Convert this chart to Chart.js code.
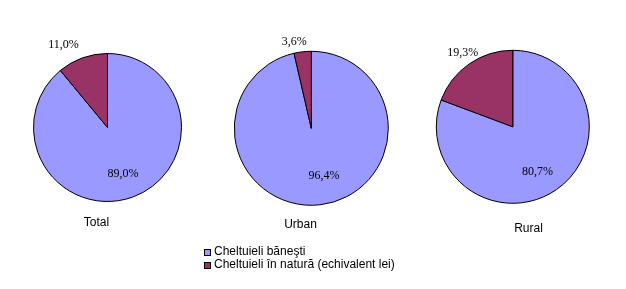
<!DOCTYPE html>
<html>
<head>
<meta charset="utf-8">
<script src="https://cdn.jsdelivr.net/npm/chart.js@4.4.1/dist/chart.umd.min.js"></script>
<style>
  html, body { margin: 0; padding: 0; background: #ffffff; }
  #wrap { position: relative; width: 626px; height: 289px; overflow: hidden; background: #fff; }
  .layer { position: absolute; left: 0; top: 0; width: 626px; height: 289px; }
  .cat { position: absolute; font-family: "Liberation Sans", Arial, sans-serif; font-size: 12px; line-height: 14px; color: #000; transform: translateX(-50%); white-space: nowrap; }
  #legend { position: absolute; left: 204px; top: 245px; font-family: "Liberation Sans", Arial, sans-serif; font-size: 12px; line-height: 13px; color: #000; }
  #legend .row { display: flex; align-items: center; white-space: nowrap; }
  #legend .sw { width: 5px; height: 5px; border: 1px solid #000; margin-right: 3px; margin-top: 1px; }
</style>
</head>
<body>
<div id="wrap"></div>
<script>
// ---- data ----
const categories = ['Total', 'Urban', 'Rural'];
const seriesNames = ['Cheltuieli băneşti', 'Cheltuieli în natură (echivalent lei)'];
const banesti = [89.0, 96.4, 80.7];
const natura = [11.0, 3.6, 19.3];

// ---- styling / layout ----
const colors = ['#9999FF', '#993366'];
const W = 626, H = 289;
const pieGeom = [
  { cx: 107.5, cy: 127.5, r: 74 },
  { cx: 311.3, cy: 128.3, r: 77 },
  { cx: 512.8, cy: 126.8, r: 76.5 }
];
// label placement: radial factor and angle shift (degrees) relative to slice middle
const labelPlace = [
  [{ rf: 0.66, da: 1.4 }, { rf: 1.26, da: -8.3 }],
  [{ rf: 0.64, da: -8.5 }, { rf: 1.15, da: -4.6 }],
  [{ rf: 0.675, da: 6.1 }, { rf: 1.17, da: 0.7 }]
];
const catPos = [
  { x: 96.5, y: 215 },
  { x: 300.5, y: 217 },
  { x: 528.5, y: 221 }
];

const fmt = v => v.toFixed(1).replace('.', ',') + '%';

const labelPlugin = {
  id: 'sliceLabels',
  afterDatasetsDraw(chart, args, opts) {
    const ctx = chart.ctx;
    const meta = chart.getDatasetMeta(0);
    const data = chart.data.datasets[0].data;
    ctx.save();
    ctx.font = '12px "Liberation Serif", "Times New Roman", serif';
    ctx.fillStyle = '#000';
    ctx.textAlign = 'center';
    ctx.textBaseline = 'middle';
    meta.data.forEach((arc, i) => {
      const p = arc.getProps(['x', 'y', 'startAngle', 'endAngle', 'outerRadius'], true);
      const place = opts.place[i];
      const mid = (p.startAngle + p.endAngle) / 2 + place.da * Math.PI / 180;
      const rr = p.outerRadius * place.rf;
      const x = p.x + Math.cos(mid) * rr;
      const y = p.y + Math.sin(mid) * rr;
      ctx.fillText(fmt(data[i]), x, y);
    });
    ctx.restore();
  }
};

const wrap = document.getElementById('wrap');

categories.forEach((cat, k) => {
  const div = document.createElement('div');
  div.className = 'layer';
  const cv = document.createElement('canvas');
  cv.width = W; cv.height = H;
  cv.style.width = W + 'px'; cv.style.height = H + 'px';
  div.appendChild(cv);
  wrap.appendChild(div);

  const g = pieGeom[k];
  const side = 2 * g.r + 1;
  const left = g.cx - side / 2;
  const top = g.cy - side / 2;
  new Chart(cv.getContext('2d'), {
    type: 'pie',
    data: {
      labels: seriesNames,
      datasets: [{
        data: [banesti[k], natura[k]],
        backgroundColor: colors,
        borderColor: '#000000',
        borderWidth: 1,
        hoverOffset: 0
      }]
    },
    options: {
      responsive: false,
      devicePixelRatio: 1,
      animation: false,
      events: [],
      layout: { padding: { left: left, top: top, right: W - left - side, bottom: H - top - side } },
      plugins: {
        legend: { display: false },
        tooltip: { enabled: false },
        sliceLabels: { place: labelPlace[k] }
      }
    },
    plugins: [labelPlugin]
  });

  const c = document.createElement('div');
  c.className = 'cat';
  c.style.left = catPos[k].x + 'px';
  c.style.top = catPos[k].y + 'px';
  c.textContent = cat;
  wrap.appendChild(c);
});

const legend = document.createElement('div');
legend.id = 'legend';
seriesNames.forEach((name, i) => {
  const row = document.createElement('div');
  row.className = 'row';
  const sw = document.createElement('span');
  sw.className = 'sw';
  sw.style.background = colors[i];
  const t = document.createElement('span');
  t.textContent = name;
  row.appendChild(sw);
  row.appendChild(t);
  legend.appendChild(row);
});
wrap.appendChild(legend);
</script>
</body>
</html>
